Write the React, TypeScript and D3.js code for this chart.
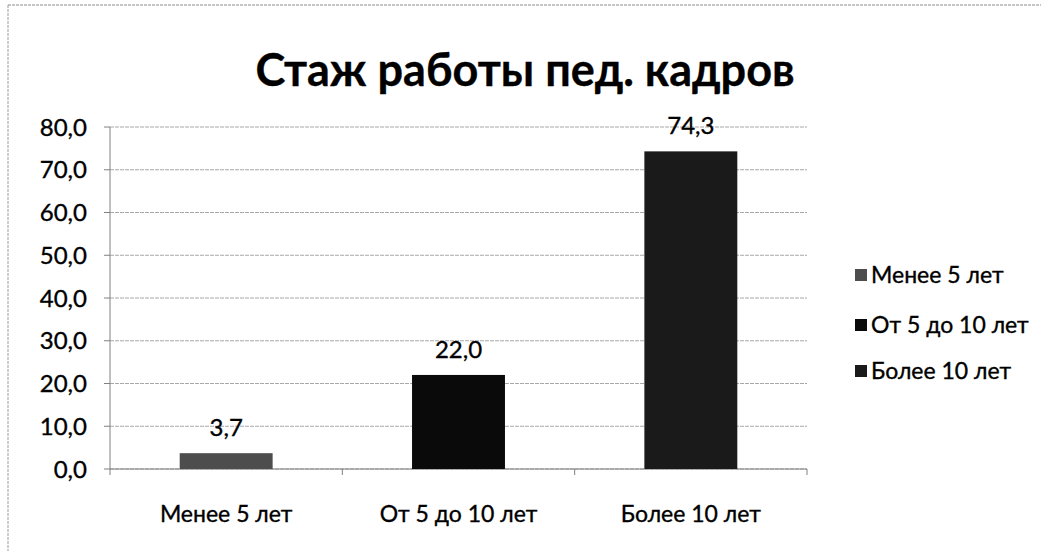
import React from "react";
import * as d3 from "d3";

const categories = ["Менее 5 лет", "От 5 до 10 лет", "Более 10 лет"];
const values = [3.7, 22.0, 74.3];
const barColors = ["#4d4d4d", "#0a0a0a", "#1a1a1a"];
const yTicks = [0, 10, 20, 30, 40, 50, 60, 70, 80];
const title = "Стаж работы пед. кадров";

const W = 1041;
const H = 551;
const margin = { left: 110, right: 234, top: 127, bottom: 82 };

const fmt = (v: number) => v.toFixed(1).replace(".", ",");

export default function App() {
  const x = d3
    .scaleBand<string>()
    .domain(categories)
    .range([margin.left, W - margin.right])
    .paddingInner(0.6)
    .paddingOuter(0.3);
  const y = d3.scaleLinear().domain([0, 80]).range([H - margin.bottom, margin.top]);
  const x0 = margin.left;
  const x1 = W - margin.right;
  const font = "Lato, 'Open Sans', sans-serif";
  const boundaries = [0, 1, 2, 3].map((i) => x0 + ((x1 - x0) / 3) * i);
  const legendY = [275, 325, 371];
  const textStyle = { stroke: "#000", strokeWidth: 0.35 };

  return (
    <svg
      width={W}
      height={H}
      style={{ position: "absolute", left: 0, top: 0, background: "#fff" }}
      fontFamily={font}
    >
      <line x1={8} x2={W} y1={5} y2={5} stroke="#8a8a8a" strokeDasharray="3 1" />
      <line x1={8} x2={8} y1={5} y2={H} stroke="#9a9a9a" strokeDasharray="3 1" />
      <text x={525} y={86} textAnchor="middle" fontSize={45} fontWeight={700} fill="#000" {...textStyle}>
        {title}
      </text>
      {yTicks.map((t) => (
        <g key={t}>
          <line x1={x0} x2={x1} y1={y(t)} y2={y(t)} stroke="#a8a8a8" strokeWidth={1} strokeDasharray="4 1" />
          <line x1={x0 - 6} x2={x0} y1={y(t)} y2={y(t)} stroke="#808080" />
          <text x={87} y={y(t)} dy="0.36em" textAnchor="end" fontSize={24} fill="#000" {...textStyle}>
            {fmt(t)}
          </text>
        </g>
      ))}
      <line x1={x0} x2={x0} y1={y(80)} y2={y(0)} stroke="#808080" />
      <line x1={x0} x2={x1} y1={y(0)} y2={y(0)} stroke="#808080" />
      {boundaries.map((b, i) => (
        <line key={i} x1={b} x2={b} y1={y(0)} y2={y(0) + 6} stroke="#808080" />
      ))}
      {categories.map((c, i) => (
        <g key={c}>
          <rect
            x={x(c)}
            y={y(values[i])}
            width={x.bandwidth()}
            height={y(0) - y(values[i])}
            fill={barColors[i]}
          />
          <text
            x={(x(c) as number) + x.bandwidth() / 2}
            y={y(values[i]) - 17}
            textAnchor="middle"
            fontSize={24}
            fill="#000"
            {...textStyle}
          >
            {fmt(values[i])}
          </text>
          <text
            x={(x(c) as number) + x.bandwidth() / 2}
            y={522}
            textAnchor="middle"
            fontSize={23}
            fill="#000"
            {...textStyle}
          >
            {c}
          </text>
        </g>
      ))}
      {categories.map((c, i) => {
        const ly = legendY[i];
        return (
          <g key={"l" + c}>
            <rect x={855} y={ly - 6} width={12} height={12} fill={barColors[i]} />
            <text x={871} y={ly} dy="0.36em" fontSize={23} fill="#000" {...textStyle}>
              {c}
            </text>
          </g>
        );
      })}
    </svg>
  );
}
